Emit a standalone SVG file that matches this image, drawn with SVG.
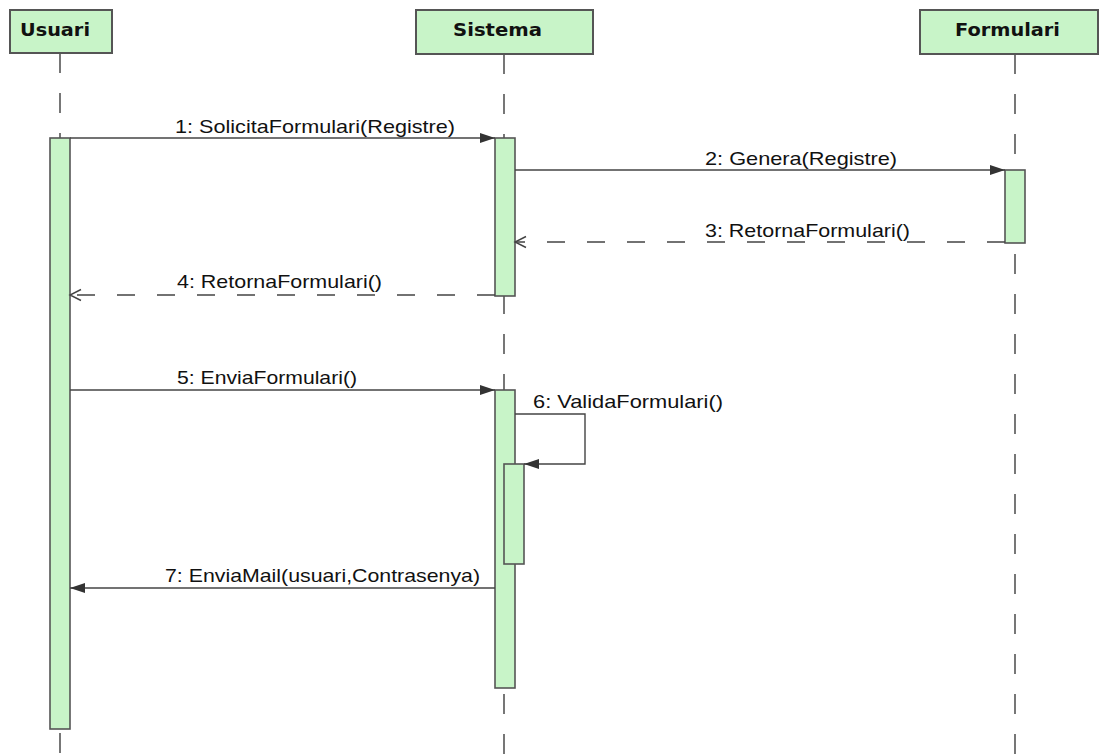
<svg xmlns="http://www.w3.org/2000/svg" width="1103" height="754" viewBox="0 0 1103 754">
  <style>
    .head { fill: #c8f4c8; stroke: #555555; stroke-width: 2; }
    .act { fill: #c8f4c8; stroke: #555555; stroke-width: 1.6; }
    .life { stroke: #555555; stroke-width: 1.6; stroke-dasharray: 20 20; fill: none; }
    .msg { stroke: #444444; stroke-width: 1.4; fill: none; }
    .ret { stroke: #444444; stroke-width: 1.4; fill: none; stroke-dasharray: 18 22; }
    .title { font-family: "DejaVu Sans", Tahoma, sans-serif; font-weight: bold; font-size: 17px; fill: #111111; }
    .label { font-family: "Liberation Sans", Arial, sans-serif; font-size: 19px; fill: #111111; }
  </style>
  <defs>
    <marker id="solid" markerWidth="16" markerHeight="12" refX="15" refY="6" orient="auto" markerUnits="userSpaceOnUse">
      <path d="M0,1 L15,6 L0,11 Z" fill="#333333"/>
    </marker>
    <marker id="open" markerWidth="14" markerHeight="14" refX="12" refY="7" orient="auto" markerUnits="userSpaceOnUse">
      <path d="M1,1.5 L12,7 L1,12.5" fill="none" stroke="#444444" stroke-width="1.4"/>
    </marker>
  </defs>
  <rect width="1103" height="754" fill="#ffffff"/>

  <!-- lifelines -->
  <g id="lifelines">
    <line class="life" x1="60" y1="53" x2="60" y2="754"/>
    <line class="life" x1="504" y1="54" x2="504" y2="754"/>
    <line class="life" x1="1015" y1="54" x2="1015" y2="754"/>
  </g>

  <g id="usuari">
    <rect class="head" x="10" y="10" width="102" height="43"/>
    <text class="title" x="20" y="36" textLength="70" lengthAdjust="spacingAndGlyphs">Usuari</text>
    <rect class="act" x="50" y="138" width="20" height="591"/>
  </g>

  <g id="sistema">
    <rect class="head" x="416" y="10" width="177" height="44"/>
    <text class="title" x="453" y="36" textLength="89" lengthAdjust="spacingAndGlyphs">Sistema</text>
    <rect class="act" x="495" y="138" width="20" height="158"/>
    <rect class="act" x="495" y="390" width="20" height="298"/>
    <rect class="act" x="504" y="464" width="20" height="100"/>
  </g>

  <g id="formulari">
    <rect class="head" x="920" y="10" width="178" height="44"/>
    <text class="title" x="955" y="36" textLength="105" lengthAdjust="spacingAndGlyphs">Formulari</text>
    <rect class="act" x="1005" y="170" width="20" height="73"/>
  </g>

  <!-- messages -->
  <g id="connectors">
    <line class="msg" x1="70" y1="138" x2="495" y2="138" marker-end="url(#solid)"/>
    <line class="msg" x1="515" y1="170" x2="1005" y2="170" marker-end="url(#solid)"/>
    <line class="ret" x1="1005" y1="242" x2="515" y2="242" marker-end="url(#open)"/>
    <line class="ret" x1="495" y1="295" x2="70" y2="295" marker-end="url(#open)"/>
    <line class="msg" x1="70" y1="390" x2="495" y2="390" marker-end="url(#solid)"/>
    <polyline class="msg" points="515,414 585,414 585,464 524,464" marker-end="url(#solid)"/>
    <line class="msg" x1="495" y1="588" x2="70" y2="588" marker-end="url(#solid)"/>
  </g>

  <g id="labels">
    <text class="label" x="175" y="133" textLength="280" lengthAdjust="spacingAndGlyphs">1: SolicitaFormulari(Registre)</text>
    <text class="label" x="705" y="165" textLength="192" lengthAdjust="spacingAndGlyphs">2: Genera(Registre)</text>
    <text class="label" x="705" y="237" textLength="205" lengthAdjust="spacingAndGlyphs">3: RetornaFormulari()</text>
    <text class="label" x="177" y="288" textLength="205" lengthAdjust="spacingAndGlyphs">4: RetornaFormulari()</text>
    <text class="label" x="177" y="384" textLength="180" lengthAdjust="spacingAndGlyphs">5: EnviaFormulari()</text>
    <text class="label" x="533" y="408" textLength="190" lengthAdjust="spacingAndGlyphs">6: ValidaFormulari()</text>
    <text class="label" x="165" y="582" textLength="315" lengthAdjust="spacingAndGlyphs">7: EnviaMail(usuari,Contrasenya)</text>
  </g>
</svg>
